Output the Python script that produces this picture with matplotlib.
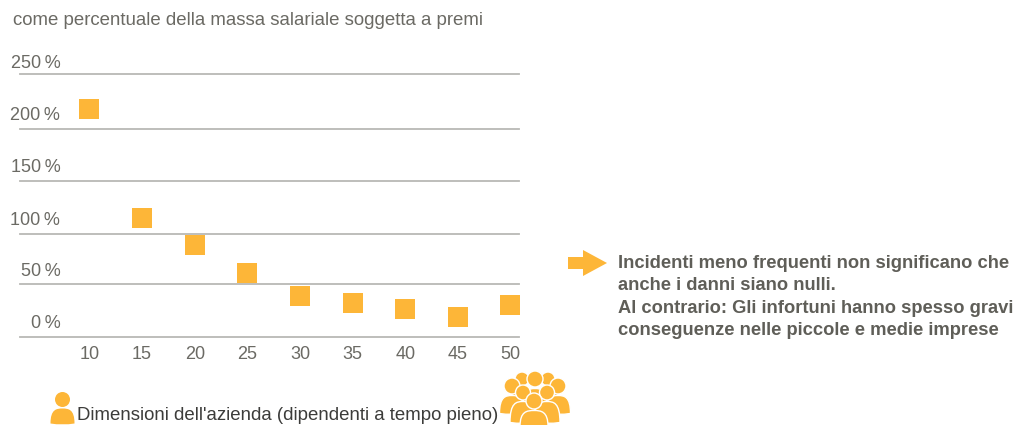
import matplotlib
matplotlib.use("Agg")
import matplotlib.pyplot as plt
from matplotlib.patches import Circle, PathPatch, Polygon
from matplotlib.path import Path

plt.rcParams['font.family'] = ['Liberation Sans', 'DejaVu Sans']

sizes = [10, 15, 20, 25, 30, 35, 40, 45, 50]
values = [217, 113, 87, 61, 39, 32, 27, 19, 30]
yticks = [0, 50, 98, 148, 198, 250]
label_levels = [0, 50, 98, 148, 198, 247]
ylabels = ["0\u2009%", "50\u2009%", "100\u2009%", "150\u2009%", "200\u2009%", "250\u2009%"]

title = "come percentuale della massa salariale soggetta a premi"
xlabel = "Dimensioni dell'azienda (dipendenti a tempo pieno)"
note = ("Incidenti meno frequenti non significano che\n"
        "anche i danni siano nulli.\n"
        "Al contrario: Gli infortuni hanno spesso gravi\n"
        "conseguenze nelle piccole e medie imprese")

orange = "#fdb638"
gray = "#6b6a64"
W, H = 1025, 425

fig = plt.figure(figsize=(W / 100, H / 100), dpi=100)

# plot area: x 20-519 px, y 74-337 px
ax = fig.add_axes([20 / W, 1 - 337 / H, 499 / W, 263 / H])
ax.set_xlim(3.40, 50.81)
ax.set_ylim(0, 250)
ax.scatter(sizes, values, marker="s", s=190, color=orange, linewidths=0, zorder=3, clip_on=False)
for s in ax.spines.values():
    s.set_visible(False)
ax.set_yticks(yticks)
ax.set_yticklabels([])
ax.yaxis.grid(True, color="#b9b9b5", lw=1.3, clip_on=False)
ax.set_axisbelow(True)
ax.tick_params(left=False, bottom=False)
ax.set_xticks(sizes)
ax.set_xticklabels([str(s) for s in sizes], fontsize=13, color=gray)
ax.tick_params(axis="x", pad=3)

for v, lab in zip(label_levels, ylabels):
    ax.annotate(lab, xy=(0, v), xycoords=("axes fraction", "data"), xytext=(29, 3.5),
                textcoords="offset points", fontsize=13, color=gray, ha="right", va="bottom")

# overlay in pixels for the texts and icons
ov = fig.add_axes([0, 0, 1, 1])
ov.set_xlim(0, W)
ov.set_ylim(H, 0)
ov.axis("off")
ov.patch.set_alpha(0)

ov.text(13, 20, title, fontsize=13.4, color=gray, va="center", ha="left")
ov.text(77, 416, xlabel, fontsize=13.4, color="#3c3c3a", va="center", ha="left")
ov.text(618, 297, note, fontsize=13.25, color="#5f5e58", weight="bold", va="center", ha="left",
        linespacing=1.39)

ov.add_patch(Polygon([(568, 257), (583, 257), (583, 250), (607, 263), (583, 276), (583, 269), (568, 269)],
                     closed=True, fc=orange, ec="none"))


def person(cx, top, r, bw, bh, edge="none"):
    # head plus rounded shoulders
    lw = 1.0 if edge != "none" else 0
    y0 = top + 2 * r + 1.5
    x0, x1 = cx - bw / 2, cx + bw / 2
    verts = [(x0, y0 + bh), (x0, y0 + 0.05 * bh), (cx - bw * 0.25, y0), (cx, y0),
             (cx + bw * 0.25, y0), (x1, y0 + 0.05 * bh), (x1, y0 + bh),
             (cx, y0 + bh + 2), (x0, y0 + bh), (x0, y0 + bh)]
    codes = [Path.MOVETO, Path.CURVE4, Path.CURVE4, Path.CURVE4, Path.CURVE4, Path.CURVE4, Path.CURVE4,
             Path.CURVE3, Path.CURVE3, Path.CLOSEPOLY]
    ov.add_patch(PathPatch(Path(verts, codes), fc=orange, ec=edge, lw=lw))
    ov.add_patch(Circle((cx, top + r), r, fc=orange, ec=edge, lw=lw))


person(62.5, 392, 7.5, 24, 15)

for cx, top, r, bw, bh in [(522, 372, 7, 22, 16), (548, 372, 7, 22, 16), (535, 371, 8, 24, 18),
                           (512, 378, 8, 25, 18), (558, 378, 8, 25, 18),
                           (523, 385, 7.5, 26, 21), (547, 385, 7.5, 26, 21),
                           (534, 393, 8, 28, 16)]:
    person(cx, top, r, bw, bh, edge="white")

fig.savefig("out.png", dpi=100)
